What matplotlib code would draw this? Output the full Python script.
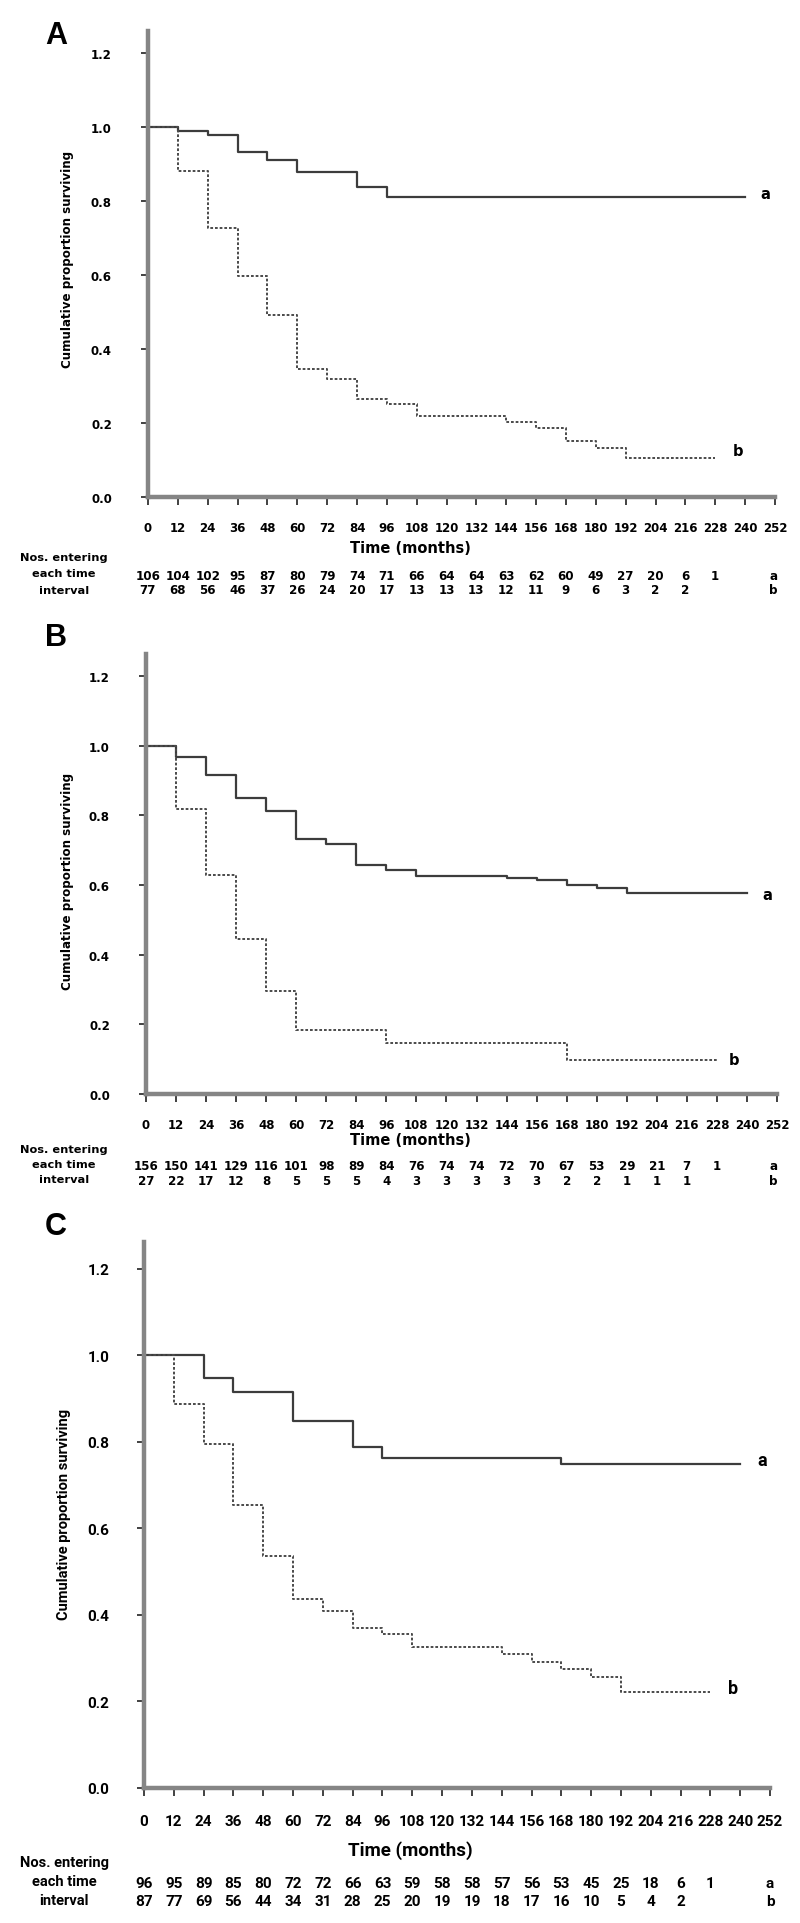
import matplotlib
matplotlib.use("Agg")
import matplotlib.pyplot as plt
from matplotlib.transforms import blended_transform_factory

W, H = 800, 1924

# ---------------- data ----------------
months = list(range(0, 253, 12))
y_ticks = [0.0, 0.2, 0.4, 0.6, 0.8, 1.0, 1.2]

# Panel A
A_a_t = [0, 12, 24, 36, 48, 60, 84, 96, 240]
A_a_s = [1.0, 0.99, 0.98, 0.933, 0.911, 0.88, 0.837, 0.812, 0.812]
A_b_t = [0, 12, 24, 36, 48, 60, 72, 84, 96, 108, 144, 156, 168, 180, 192, 228]
A_b_s = [1.0, 0.882, 0.726, 0.597, 0.492, 0.346, 0.319, 0.266, 0.251, 0.220,
         0.204, 0.186, 0.152, 0.133, 0.105, 0.105]
A_n_a = [106, 104, 102, 95, 87, 80, 79, 74, 71, 66, 64, 64, 63, 62, 60, 49, 27, 20, 6, 1]
A_n_b = [77, 68, 56, 46, 37, 26, 24, 20, 17, 13, 13, 13, 12, 11, 9, 6, 3, 2, 2]

# Panel B
B_a_t = [0, 12, 24, 36, 48, 60, 72, 84, 96, 108, 144, 156, 168, 180, 192, 240]
B_a_s = [1.0, 0.968, 0.916, 0.851, 0.811, 0.733, 0.717, 0.658, 0.642, 0.627,
         0.620, 0.613, 0.601, 0.591, 0.577, 0.577]
B_b_t = [0, 12, 24, 36, 48, 60, 96, 168, 228]
B_b_s = [1.0, 0.817, 0.629, 0.446, 0.296, 0.184, 0.147, 0.099, 0.099]
B_n_a = [156, 150, 141, 129, 116, 101, 98, 89, 84, 76, 74, 74, 72, 70, 67, 53, 29, 21, 7, 1]
B_n_b = [27, 22, 17, 12, 8, 5, 5, 5, 4, 3, 3, 3, 3, 3, 2, 2, 1, 1, 1]

# Panel C
C_a_t = [0, 24, 36, 60, 84, 96, 168, 240]
C_a_s = [1.0, 0.948, 0.916, 0.848, 0.788, 0.763, 0.750, 0.750]
C_b_t = [0, 12, 24, 36, 48, 60, 72, 84, 96, 108, 144, 156, 168, 180, 192, 228]
C_b_s = [1.0, 0.887, 0.794, 0.655, 0.536, 0.437, 0.410, 0.370, 0.356, 0.327,
         0.310, 0.292, 0.274, 0.256, 0.223, 0.223]
C_n_a = [96, 95, 89, 85, 80, 72, 72, 66, 63, 59, 58, 58, 57, 56, 53, 45, 25, 18, 6, 1]
C_n_b = [87, 77, 69, 56, 44, 34, 31, 28, 25, 20, 19, 19, 18, 17, 16, 10, 5, 4, 2]

fig = plt.figure(figsize=(W / 100, H / 100), dpi=100)


def fy(px):
    return 1 - px / H


def panel(letter, box, ylim_top, a_t, a_s, b_t, b_s, n_a, n_b, lab_a, lab_b,
          rows, fam, fs):
    left, top, right, bottom = box
    ax = fig.add_axes([left / W, fy(bottom), (right - left) / W, (bottom - top) / H])
    ax.step(a_t, a_s, where="post", color="#3c3c3c", lw=1.6, zorder=3)
    ax.step(b_t, b_s, where="post", color="#4a4a4a", lw=1.4,
            linestyle=(0, (1.4, 1.0)), zorder=3)
    ax.set_xlim(0, 252)
    ax.set_ylim(0, ylim_top)
    for s in ("top", "right"):
        ax.spines[s].set_visible(False)
    for s in ("left", "bottom"):
        ax.spines[s].set_color("#858585")
        ax.spines[s].set_linewidth(3.2)
        ax.spines[s].set_zorder(4)
    ax.set_xticks(months)
    ax.set_yticks(y_ticks)
    ax.set_yticklabels([f"{v:.1f}" for v in y_ticks])
    ax.set_xticklabels([str(m) for m in months])
    ax.tick_params(axis="y", direction="out", length=5, width=1.3, color="#333333",
                   pad=fs["ypad"], labelsize=fs["tick"])
    ax.tick_params(axis="x", direction="out", length=6, width=1.3, color="#333333",
                   pad=fs["xpad"], labelsize=fs["tick"])
    for t in ax.get_xticklabels() + ax.get_yticklabels():
        t.set_fontweight("bold")
        t.set_family(fam)
    # curve end labels
    ax.text(lab_a[0], lab_a[1], "a", ha="center", va="center", fontsize=fs["ab"],
            fontweight="bold", family=fam, clip_on=False)
    ax.text(lab_b[0], lab_b[1], "b", ha="center", va="center", fontsize=fs["ab"],
            fontweight="bold", family=fam, clip_on=False)
    # panel letter
    fig.text(56 / W, fy(rows["letter"]), letter, ha="center", va="center",
             fontsize=22, fontweight="bold", family=["Liberation Sans", "DejaVu Sans"])
    # y label
    fig.text(rows["ylx"] / W, fy(rows["yly"]), "Cumulative proportion surviving",
             rotation=90, ha="center", va="center", fontsize=fs["ylab"],
             fontweight="bold", family=fam)
    # x label
    fig.text(410 / W, fy(rows["time"]), "Time (months)", ha="center", va="center",
             fontsize=fs["xlab"], fontweight="bold", family=fam)
    # number at risk header
    for txt, key in (("Nos. entering", "nos"), ("each time", "each"), ("interval", "int")):
        fig.text(64 / W, fy(rows[key]), txt, ha="center", va="center",
                 fontsize=fs["nos"], fontweight="bold", family=fam)
    tr = blended_transform_factory(ax.transData, fig.transFigure)
    for i, v in enumerate(n_a):
        ax.text(months[i], fy(rows["ra"]), str(v), transform=tr, ha="center",
                va="center", fontsize=fs["cnt"], fontweight="bold", family=fam)
    for i, v in enumerate(n_b):
        ax.text(months[i], fy(rows["rb"]), str(v), transform=tr, ha="center",
                va="center", fontsize=fs["cnt"], fontweight="bold", family=fam)
    fig.text(rows["rlx"] / W, fy(rows["ra"]), "a", ha="center", va="center",
             fontsize=fs["cnt"], fontweight="bold", family=fam)
    fig.text(rows["rlx"] / W, fy(rows["rb"]), "b", ha="center", va="center",
             fontsize=fs["cnt"], fontweight="bold", family=fam)
    return ax


fam_ab = ["DejaVu Sans"]
fs_ab = dict(tick=8.5, ypad=21, xpad=11, ab=10.5, ylab=8.6, xlab=10.5, nos=8.2, cnt=8.6)
fam_c = ["Roboto", "DejaVu Sans"]
fs_c = dict(tick=11, ypad=20, xpad=13, ab=13, ylab=10.5, xlab=13.5, nos=10.5, cnt=11)

panel("A", (148, 32, 775, 498), 1.26, A_a_t, A_a_s, A_b_t, A_b_s, A_n_a, A_n_b,
      (248, 0.82), (237, 0.127),
      dict(letter=36, ylx=67, yly=259, time=549, nos=558, each=574, int=591,
           ra=576, rb=591, rlx=773), fam_ab, fs_ab)

panel("B", (146, 655, 777, 1095), 1.263, B_a_t, B_a_s, B_b_t, B_b_s, B_n_a, B_n_b,
      (248, 0.573), (235, 0.099),
      dict(letter=638, ylx=67, yly=881, time=1141, nos=1150, each=1165, int=1180,
           ra=1167, rb=1182, rlx=773), fam_ab, fs_ab)

panel("C", (144, 1243, 770, 1789), 1.262, C_a_t, C_a_s, C_b_t, C_b_s, C_n_a, C_n_b,
      (249, 0.758), (237, 0.232),
      dict(letter=1227, ylx=64, yly=1514, time=1851, nos=1863, each=1882, int=1901,
           ra=1884, rb=1902, rlx=770), fam_c, fs_c)

fig.savefig("out.png", dpi=100, facecolor="white")
